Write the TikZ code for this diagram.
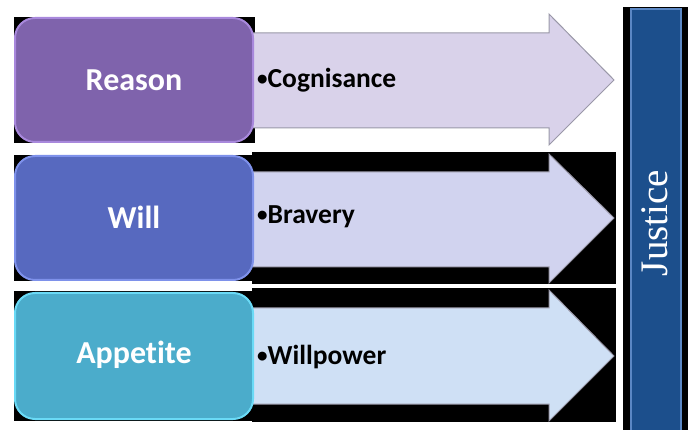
\documentclass[tikz,border=0pt]{standalone}
\usepackage{fontspec}
\setmainfont[RawFeature={-liga;-clig;-dlig}]{Carlito}
\newfontfamily\justfont{Liberation Serif}
\definecolor{rsn}{HTML}{7F63AC}
\definecolor{rsnb}{HTML}{A888DC}
\definecolor{wil}{HTML}{5769BF}
\definecolor{wilb}{HTML}{7E91EA}
\definecolor{app}{HTML}{4BACCB}
\definecolor{appb}{HTML}{6ADAF6}
\definecolor{arA}{HTML}{D9D2EA}
\definecolor{arB}{HTML}{D1D3EF}
\definecolor{arC}{HTML}{CFE0F5}
\definecolor{arEdge}{HTML}{9A98A8}
\definecolor{jus}{HTML}{1C4F8C}
\definecolor{jusb}{HTML}{5B87C4}
\newcommand{\smbul}{\raisebox{0.08em}{\fontsize{21}{21}\selectfont\textbullet}}
\tikzset{
  bg/.style={fill=black, draw=none},
  boxnode/.style={rounded corners=20pt, line width=2pt},
  boxtext/.style={text=white, font=\bfseries\fontsize{32}{38}\selectfont},
  arrowshape/.style={draw=arEdge, line width=1pt, line join=miter},
  arrowtext/.style={anchor=west, text=black, font=\bfseries\fontsize{27.5}{32}\selectfont, inner sep=0pt},
}
\begin{document}
\begin{tikzpicture}[x=1pt, y=-1pt]
\useasboundingbox (0,0) rectangle (688,430);
% black backgrounds
\fill[bg] (14,17) rectangle (255,143);
\fill[bg] (14,155) rectangle (253,281);
\fill[bg] (252,152) rectangle (616,284);
\fill[bg] (14,291) rectangle (252,421);
\fill[bg] (252,288) rectangle (616,422);
\fill[bg] (623,7) rectangle (688,430);
% arrows
\draw[arrowshape, fill=arA] (240,33) -- (549,33) -- (549,14) -- (614,80) -- (549,145) -- (549,128) -- (240,128) -- cycle;
\draw[arrowshape, fill=arB] (240,172) -- (549,172) -- (549,154) -- (614,218) -- (549,283) -- (549,267) -- (240,267) -- cycle;
\draw[arrowshape, fill=arC] (240,308) -- (549,308) -- (549,290) -- (614,356) -- (549,421) -- (549,404) -- (240,404) -- cycle;
% boxes
\draw[boxnode, fill=rsn, draw=rsnb] (15,18) rectangle (253,142);
\draw[boxnode, fill=wil, draw=wilb] (15,156) rectangle (253,280);
\draw[boxnode, fill=app, draw=appb] (15,293) rectangle (253,419);
\node[boxtext] (reason) at (134,80) {Reason};
\node[boxtext] (will) at (134,217) {Will};
\node[boxtext] (appetite) at (134,355) {Appet\kern0pt ite};
\node[arrowtext] (cog) at (257,80) {\smbul Cognisance};
\node[arrowtext] (brav) at (257,217) {\smbul Bravery};
\node[arrowtext] (wp) at (257,357) {\smbul Willpower};
% justice bar
\draw[fill=jus, draw=jusb, line width=1.5pt] (631,9) rectangle (681,432);
\node[text=white, rotate=90, font=\justfont\fontsize{39}{42}\selectfont] (justice) at (655,223) {Justice};
\end{tikzpicture}
\end{document}
